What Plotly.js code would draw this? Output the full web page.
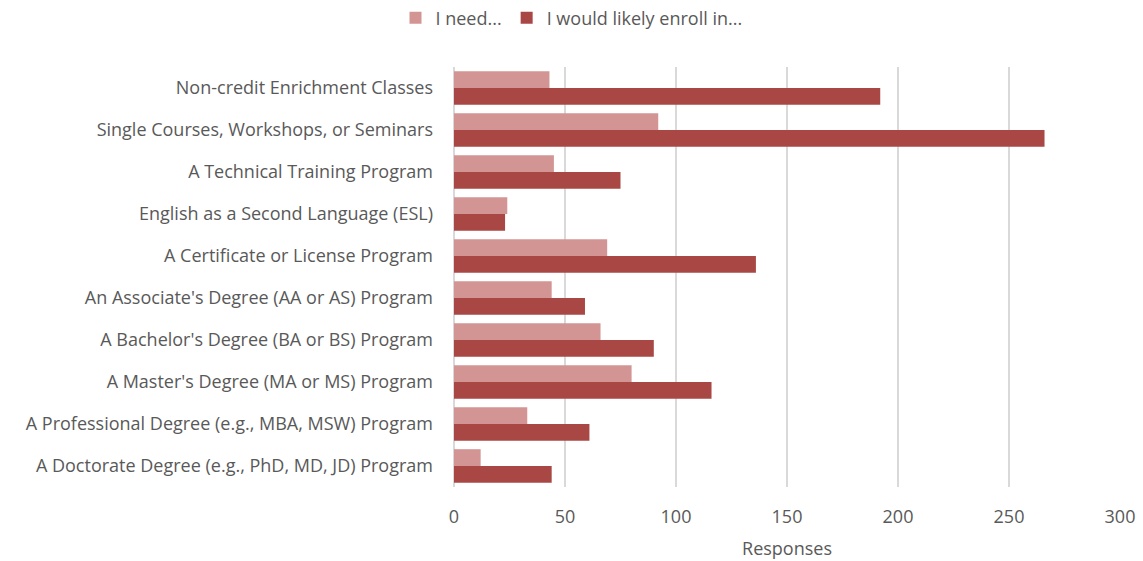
<!DOCTYPE html>
<html>
<head>
<meta charset="utf-8">
<script src="https://cdn.plot.ly/plotly-3.0.1.min.js"></script>
<style>html,body{margin:0;padding:0;background:#fff;}#chart{width:1143px;height:561px;}</style>
</head>
<body>
<div id="chart"></div>
<script>
const categories = [
  "Non-credit Enrichment Classes",
  "Single Courses, Workshops, or Seminars",
  "A Technical Training Program",
  "English as a Second Language (ESL)",
  "A Certificate or License Program",
  "An Associate's Degree (AA or AS) Program",
  "A Bachelor's Degree (BA or BS) Program",
  "A Master's Degree (MA or MS) Program",
  "A Professional Degree (e.g., MBA, MSW) Program",
  "A Doctorate Degree (e.g., PhD, MD, JD) Program"
];
const needValues = [43, 92, 45, 24, 69, 44, 66, 80, 33, 12];
const enrollValues = [192, 266, 75, 23, 136, 59, 90, 116, 61, 44];
const seriesNames = ["I need...", "I would likely enroll in..."];
const xTicks = [0, 50, 100, 150, 200, 250, 300];

const font = {family: "Open Sans, Liberation Sans, sans-serif", size: 18, color: "#595959"};

const traces = [
  {type: "bar", orientation: "h", name: seriesNames[0], y: categories, x: needValues,
   marker: {color: "#D39494"}, hoverinfo: "x+y"},
  {type: "bar", orientation: "h", name: seriesNames[1], y: categories, x: enrollValues,
   marker: {color: "#A94744"}, hoverinfo: "x+y"}
];

const layout = {
  width: 1143, height: 561,
  margin: {l: 454, r: 23, t: 67, b: 74},
  paper_bgcolor: "#fff", plot_bgcolor: "#fff",
  font: font,
  barmode: "group",
  bargap: 0.2,
  bargroupgap: 0,
  showlegend: true,
  legend: {orientation: "h", xref: "container", yref: "container", x: 0.5, xanchor: "center",
           y: 0.968, yanchor: "middle", font: font, traceorder: "normal", itemwidth: 30},
  xaxis: {range: [0, 300], tickvals: xTicks, ticktext: xTicks.map(String),
          showgrid: true, gridcolor: "#D9D9D9", gridwidth: 1.5,
          zeroline: true, zerolinecolor: "#D9D9D9", zerolinewidth: 1.5,
          showline: false, ticks: "", tickfont: font, ticklabelstandoff: 17,
          title: {text: "Responses", font: font, standoff: 15}, fixedrange: true},
  yaxis: {autorange: "reversed", type: "category", showgrid: false, zeroline: false,
          showline: false, ticks: "", tickfont: font, ticklabelstandoff: 20, fixedrange: true}
};

Plotly.newPlot("chart", traces, layout, {displayModeBar: false, staticPlot: true});
</script>
</body>
</html>
